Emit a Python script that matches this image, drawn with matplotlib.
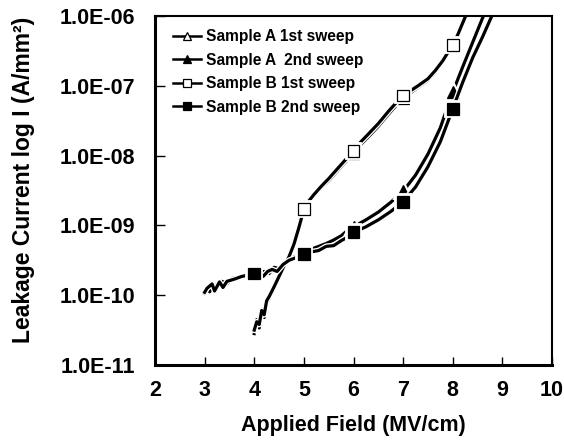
import matplotlib
matplotlib.use("Agg")
import matplotlib.pyplot as plt
import matplotlib.patheffects as pe
from matplotlib.ticker import FixedLocator, FixedFormatter, NullLocator

# --- data (field in MV/cm, current in A/mm^2) ---
field_1st = [4.0, 4.05, 4.1, 4.15, 4.2, 4.25, 4.3, 4.4, 4.5, 4.6, 4.7, 4.8, 4.9,
             5.0, 5.1, 5.2, 5.35, 5.5, 5.65, 5.8, 6.0, 6.15, 6.3, 6.5, 6.7, 6.85,
             7.0, 7.15, 7.3, 7.5, 7.65, 7.8, 8.0, 8.1, 8.2, 8.3]
a_1st = [2.82e-11, 4.47e-11, 3.39e-11, 5.62e-11, 4.79e-11, 7.59e-11, 8.91e-11,
         1.26e-10, 1.78e-10, 2.51e-10, 3.72e-10, 5.75e-10, 1.02e-9, 1.91e-9,
         2.29e-9, 2.69e-9, 3.47e-9, 4.37e-9, 5.75e-9, 7.59e-9, 1.07e-8, 1.45e-8,
         1.86e-8, 2.63e-8, 3.89e-8, 5.13e-8, 6.61e-8, 7.94e-8, 9.55e-8, 1.20e-7,
         1.58e-7, 2.24e-7, 3.80e-7, 5.37e-7, 7.94e-7, 1.17e-6]
b_1st = [3.16e-11, 4.17e-11, 3.80e-11, 6.03e-11, 5.25e-11, 8.32e-11, 9.55e-11,
         1.32e-10, 1.86e-10, 2.63e-10, 3.55e-10, 5.37e-10, 9.33e-10, 1.70e-9,
         2.24e-9, 2.75e-9, 3.63e-9, 4.68e-9, 6.17e-9, 8.13e-9, 1.17e-8, 1.58e-8,
         2.04e-8, 2.88e-8, 4.27e-8, 5.62e-8, 7.24e-8, 8.51e-8, 1.00e-7, 1.26e-7,
         1.66e-7, 2.29e-7, 3.89e-7, 5.37e-7, 7.94e-7, 1.17e-6]

field_a2 = [3.0, 3.05, 3.1, 3.2, 3.25, 3.35, 3.45, 3.55, 3.7, 3.85, 4.0, 4.1,
            4.2, 4.3, 4.4, 4.5, 4.6, 4.75, 4.9, 5.0, 5.15, 5.3, 5.45, 5.6, 5.75,
            5.9, 6.0, 6.25, 6.5, 6.75, 7.0, 7.25, 7.5, 7.75, 8.0, 8.2, 8.4, 8.6,
            8.65]
a_2nd = [1.05e-10, 1.32e-10, 1.12e-10, 1.41e-10, 1.26e-10, 1.58e-10, 1.45e-10,
         1.74e-10, 1.78e-10, 2.00e-10, 2.09e-10, 2.00e-10, 2.19e-10, 2.04e-10,
         2.51e-10, 2.40e-10, 2.95e-10, 3.39e-10, 3.80e-10, 4.17e-10, 4.57e-10,
         5.01e-10, 5.50e-10, 6.17e-10, 7.08e-10, 8.71e-10, 9.55e-10, 1.20e-9,
         1.55e-9, 2.14e-9, 3.09e-9, 5.25e-9, 1.05e-8, 2.51e-8, 8.13e-8, 1.86e-7,
         4.17e-7, 9.33e-7, 1.12e-6]

field_b2 = [3.0, 3.05, 3.1, 3.15, 3.2, 3.3, 3.37, 3.45, 3.6, 3.75, 3.9, 4.0,
            4.1, 4.18, 4.27, 4.36, 4.46, 4.58, 4.7, 4.85, 5.0, 5.15, 5.3, 5.45,
            5.6, 5.75, 5.9, 6.0, 6.25, 6.5, 6.75, 7.0, 7.25, 7.5, 7.75, 8.0,
            8.2, 8.4, 8.6, 8.8]
b_2nd = [1.10e-10, 1.26e-10, 1.35e-10, 1.45e-10, 1.15e-10, 1.55e-10, 1.29e-10,
         1.58e-10, 1.70e-10, 1.86e-10, 1.95e-10, 2.04e-10, 2.09e-10, 1.86e-10,
         2.19e-10, 2.34e-10, 2.19e-10, 2.75e-10, 3.16e-10, 3.47e-10, 3.89e-10,
         4.17e-10, 4.37e-10, 5.01e-10, 5.13e-10, 6.03e-10, 6.92e-10, 7.94e-10,
         9.55e-10, 1.20e-9, 1.58e-9, 2.19e-9, 3.55e-9, 6.92e-9, 1.58e-8,
         4.68e-8, 1.12e-7, 2.51e-7, 5.01e-7, 1.05e-6]

marks_1st = [5.0, 6.0, 7.0, 8.0]
marks_2nd = [4.0, 5.0, 6.0, 7.0, 8.0]

x_ticks = [2, 3, 4, 5, 6, 7, 8, 9, 10]
y_ticks = [1e-11, 1e-10, 1e-9, 1e-8, 1e-7, 1e-6]
y_tick_labels = ["1.0E-11", "1.0E-10", "1.0E-09", "1.0E-08", "1.0E-07", "1.0E-06"]

plt.rcParams["font.family"] = ["Liberation Sans", "DejaVu Sans"]
plt.rcParams["font.weight"] = "bold"


# indices of the points that carry a marker
def mark_idx(xs, marks):
    return [i for i, v in enumerate(xs) if v in marks]


fig = plt.figure(figsize=(5.64, 4.46), dpi=100)
ax = fig.add_axes([155 / 564, 1 - 365 / 446, 397 / 564, 349 / 446])

outline = [pe.Stroke(linewidth=4.2, foreground="white"), pe.Normal()]
series = [
    (field_1st, a_1st, "Sample A 1st sweep", "^", "white", marks_1st),
    (field_a2, a_2nd, "Sample A  2nd sweep", "^", "black", marks_2nd),
    (field_1st, b_1st, "Sample B 1st sweep", "s", "white", marks_1st),
    (field_b2, b_2nd, "Sample B 2nd sweep", "s", "black", marks_2nd),
]
for xs, ys, label, mk, fc, marks in series:
    ax.plot(xs, ys, color="black", lw=2.3, marker=mk, ms=8.5, mfc=fc,
            mec="black", mew=0.9, markevery=mark_idx(xs, marks), label=label,
            path_effects=outline)

ax.set_yscale("log")
ax.set_xlim(2, 10)
ax.set_ylim(1e-11, 1e-6)
ax.xaxis.set_major_locator(FixedLocator(x_ticks))
ax.yaxis.set_major_locator(FixedLocator(y_ticks))
ax.yaxis.set_major_formatter(FixedFormatter(y_tick_labels))
ax.yaxis.set_minor_locator(NullLocator())
ax.tick_params(axis="x", direction="in", length=6, width=1, pad=11, labelsize=15.5)
ax.tick_params(axis="y", direction="in", length=7, width=1, pad=14, labelsize=15.5)

for side in ["left", "bottom"]:
    ax.spines[side].set_linewidth(2.2)
for side in ["top", "right"]:
    ax.spines[side].set_linewidth(1.5)

ax.set_xlabel("Applied Field (MV/cm)", fontsize=15.5, fontweight="bold", labelpad=10)
ax.set_ylabel("Leakage Current log I (A/mm²)", fontsize=16.5, fontweight="bold",
              labelpad=18)
ax.yaxis.label.set_y(0.53)

leg = ax.legend(loc="upper left", bbox_to_anchor=(0.030, 0.98), frameon=False,
                fontsize=11.2, markerscale=0.6, handlelength=1.8,
                handletextpad=0.3, labelspacing=0.55, borderaxespad=0.0,
                borderpad=0.4)
for line in leg.get_lines():
    line.set_linewidth(1.8)
    line.set_path_effects([])

fig.savefig("out.png", dpi=100)
